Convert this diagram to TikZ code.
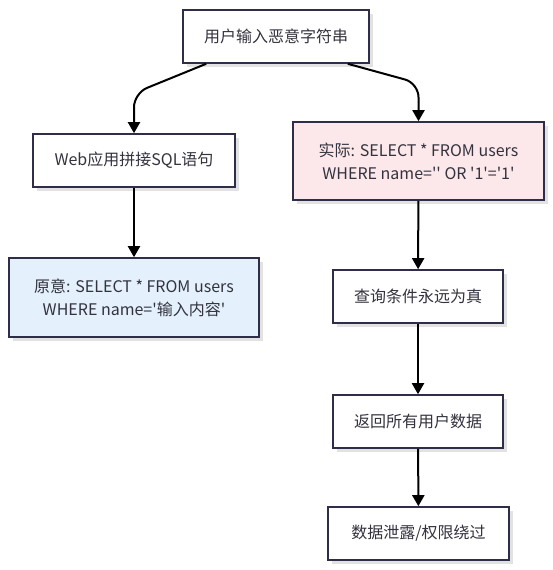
\documentclass[tikz,border=0pt]{standalone}
\usepackage{fontspec}
\setmainfont{Noto Sans CJK SC}[Ligatures=TeXOff]
\usetikzlibrary{arrows.meta,shadows}
\definecolor{boxline}{HTML}{2E2E48}
\definecolor{boxtext}{HTML}{33333F}
\definecolor{intentfill}{HTML}{E4F1FC}
\definecolor{actualfill}{HTML}{FCE8EA}
\definecolor{shade}{HTML}{E2E2E2}
\begin{document}
\begin{tikzpicture}[x=1pt, y=-1pt,
    stepbox/.style={draw=boxline, line width=1.6pt, fill=white, text=boxtext,
        align=center, inner sep=0pt, font=\fontsize{16}{23}\selectfont,
        drop shadow={shadow xshift=4pt, shadow yshift=-4pt, fill=shade, opacity=1}},
    flow/.style={line width=2pt, -{Triangle[width=12pt,length=11pt]}}]
    \useasboundingbox (0,0) rectangle (553,570);

    \node[stepbox, minimum width=186pt, minimum height=53pt] (input) at (276,36.5) {用户输入恶意字符串};
    \node[stepbox, minimum width=202pt, minimum height=53pt] (web) at (134,160.5) {Web应用拼接SQL语句};
    \node[stepbox, fill=intentfill, minimum width=250pt, minimum height=79pt] (intent) at (134,297.5)
        {原意: SELECT * FROM users\\WHERE name='输入内容'};
    \node[stepbox, fill=actualfill, minimum width=251pt, minimum height=78pt] (actual) at (418.5,161)
        {实际: SELECT * FROM users\\WHERE name='' OR '1'='1'};
    \node[stepbox, minimum width=170pt, minimum height=53pt] (query) at (418,296.5) {查询条件永远为真};
    \node[stepbox, minimum width=170pt, minimum height=53pt] (return) at (418,421.5) {返回所有用户数据};
    \node[stepbox, minimum width=181pt, minimum height=53pt] (leak) at (418.5,533.5) {数据泄露/权限绕过};

    % branches from the input
    \draw[flow, rounded corners=14pt] ([xshift=24pt]input.south west) -- ([yshift=40pt]web.north) -- (web.north);
    \draw[flow, rounded corners=14pt] ([xshift=-22pt]input.south east) -- ([yshift=38pt]actual.north) -- (actual.north);

    \draw[flow] (web) -- (intent);
    \draw[flow] (actual) -- (query);
    \draw[flow] (query) -- (return);
    \draw[flow] (return) -- (leak);
\end{tikzpicture}
\end{document}
